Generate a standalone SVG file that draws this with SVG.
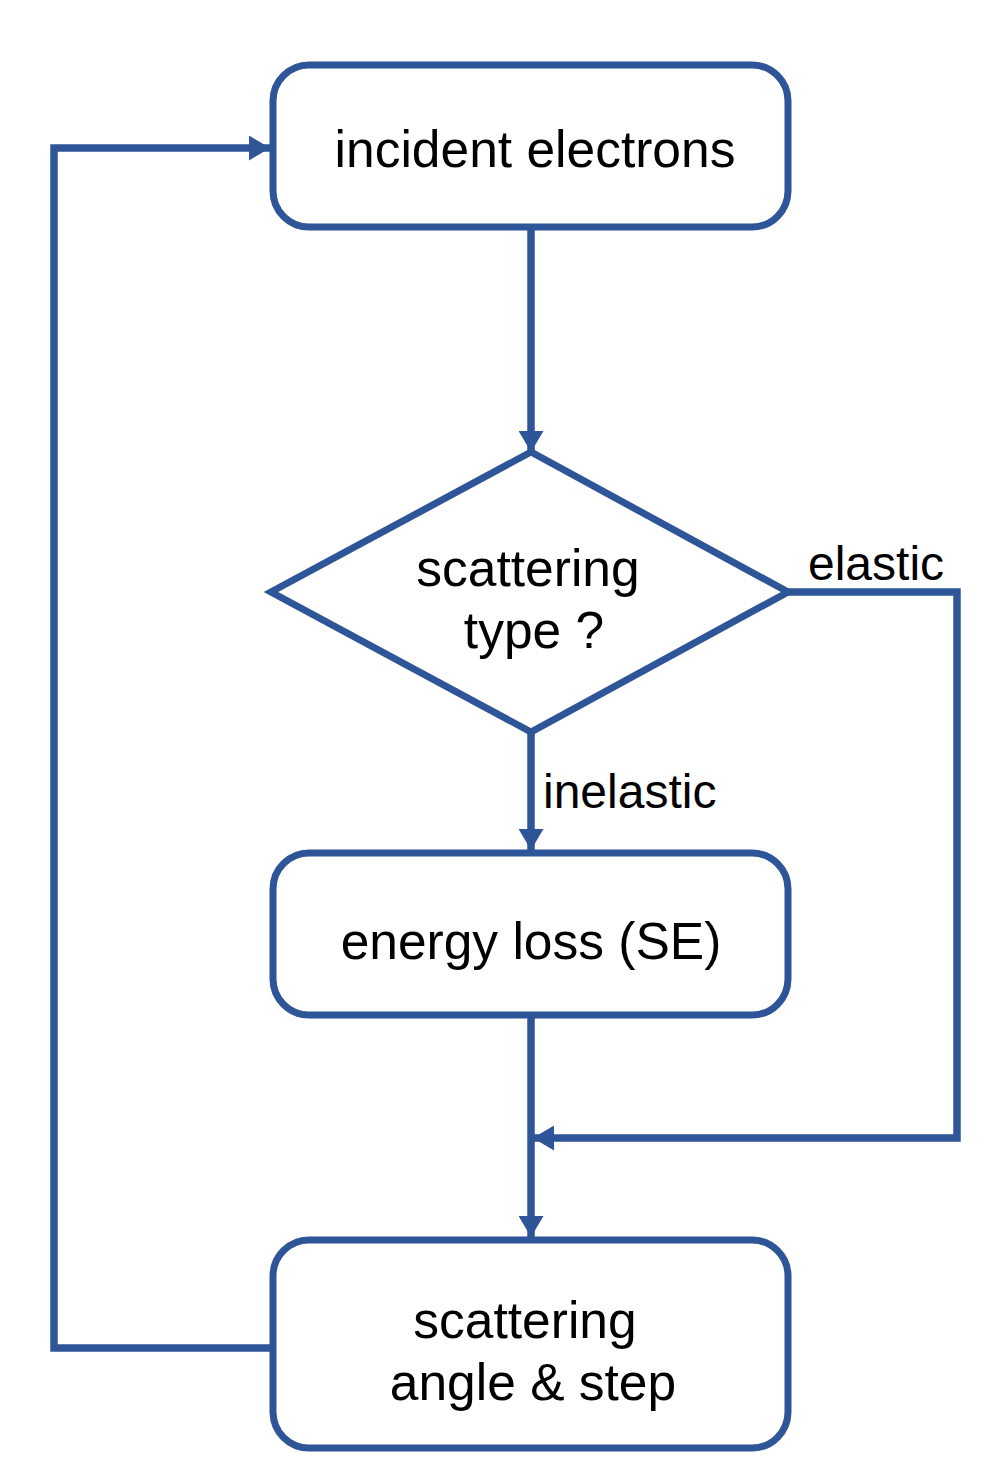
<svg xmlns="http://www.w3.org/2000/svg" width="1006" height="1482" viewBox="0 0 1006 1482">
<defs>
<style>
.node{fill:#fff;stroke:#2E5597;stroke-width:7}
.conn{fill:none;stroke:#2E5597;stroke-width:7.5;stroke-linejoin:miter}
.t{font-family:"Liberation Sans",Arial,sans-serif;font-size:51.5px;fill:#000;text-anchor:middle}
.lbl{font-family:"Liberation Sans",Arial,sans-serif;font-size:48px;fill:#000}
</style>
<marker id="arr" viewBox="0 0 21 25" refX="21" refY="12.5" markerWidth="21" markerHeight="25" markerUnits="userSpaceOnUse" orient="auto">
<path d="M0,0 L21,12.5 L0,25 Z" fill="#2E5597"/>
</marker>
</defs>
<rect width="1006" height="1482" fill="#fff"/>
<g id="connectors">
<path class="conn" d="M531,227 V452" marker-end="url(#arr)"/>
<path class="conn" d="M531,732 V850" marker-end="url(#arr)"/>
<path class="conn" d="M531,1015 V1237" marker-end="url(#arr)"/>
<path class="conn" d="M788,592 H957 V1138 H533" marker-end="url(#arr)"/>
<path class="conn" d="M273,1348 H54 V148 H270" marker-end="url(#arr)"/>
</g>
<g id="n1"><rect class="node" x="273" y="65" width="515" height="162" rx="36"/><text class="t" x="535" y="167">incident electrons</text></g>
<g id="n2"><polygon class="node" points="531,452 271,592 531,732 788,592"/><text class="t" x="528" y="586">scattering</text><text class="t" x="534" y="648">type ?</text></g>
<g id="n3"><rect class="node" x="273" y="853" width="515" height="162" rx="36"/><text class="t" x="531" y="959">energy loss (SE)</text></g>
<g id="n4"><rect class="node" x="273" y="1240" width="515" height="208" rx="36"/><text class="t" x="525" y="1338">scattering</text><text class="t" x="533" y="1400">angle &amp; step</text></g>
<text class="lbl" x="808" y="580">elastic</text>
<text class="lbl" x="543" y="808">inelastic</text>
</svg>
